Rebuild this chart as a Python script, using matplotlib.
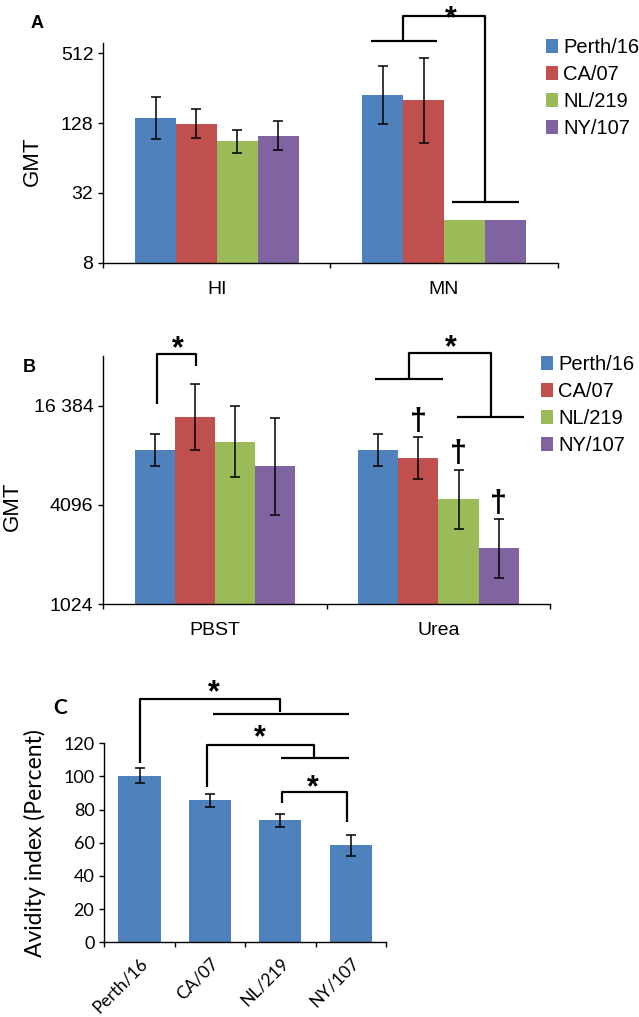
import numpy as np
import matplotlib
matplotlib.use('Agg')
import matplotlib.pyplot as plt
from matplotlib.patches import Patch
from matplotlib import transforms

# Data
strains = ['Perth/16', 'CA/07', 'NL/219', 'NY/107']
colors = ['#4F81BD', '#C0504D', '#9BBB59', '#8064A2']

a_groups = ['HI', 'MN']
hi_gmt = [142, 127, 89, 100]
hi_lo = [93, 95, 71, 75]
hi_up = [216, 169, 112, 134]
mn_gmt = [225, 201, 18.8, 18.8]
mn_lo = [126, 87, np.nan, np.nan]
mn_up = [400, 464, np.nan, np.nan]

b_groups = ['PBST', 'Urea']
pbst_gmt = [8830, 13990, 9910, 7060]
pbst_lo = [7090, 8790, 6055, 3577]
pbst_up = [11080, 22180, 16250, 13800]
urea_gmt = [8830, 7860, 4455, 2238]
urea_lo = [7090, 5913, 2930, 1478]
urea_up = [11080, 10530, 6706, 3365]

avidity = [100.5, 85.6, 73.6, 58.5]
avidity_err = [4.4, 3.9, 3.8, 6.3]

W, H = 639, 1017
fig = plt.figure(figsize=(W / 100, H / 100), dpi=100)
arial = 'Liberation Sans'
calib = 'Lato'


def rect(left, top, right, bottom):
    return [left / W, 1 - bottom / H, (right - left) / W, (bottom - top) / H]


def style_axes(ax, family, size):
    for s in ['top', 'right']:
        ax.spines[s].set_visible(False)
    for s in ['left', 'bottom']:
        ax.spines[s].set_linewidth(1.0)
    ax.tick_params(axis='both', which='major', direction='out', length=3.6,
                   width=1.0, labelsize=size)
    for lab in ax.get_yticklabels():
        lab.set_family(family)


def line(ax, xs, ys):
    ax.plot(xs, ys, color='black', lw=1.6, clip_on=False, solid_capstyle='butt')


def star(ax, x, y, size=22):
    ax.annotate('*', xy=(x, y), xytext=(0, -4.5), textcoords='offset points',
                ha='center', va='center', fontsize=size, fontweight='bold',
                family=arial, annotation_clip=False)


def grouped(ax, groups, vals, los, ups):
    offsets = [-0.27, -0.09, 0.09, 0.27]
    xs = np.arange(len(groups))
    for i in range(4):
        v = np.array([g[i] for g in vals], dtype=float)
        lo = np.array([g[i] for g in los], dtype=float)
        up = np.array([g[i] for g in ups], dtype=float)
        ax.bar(xs + offsets[i], v, width=0.18, color=colors[i], zorder=2)
        ok = np.isfinite(lo)
        ax.errorbar(xs[ok] + offsets[i], v[ok],
                    yerr=[v[ok] - lo[ok], up[ok] - v[ok]], fmt='none',
                    ecolor='black', elinewidth=1.1, capsize=3.3,
                    capthick=1.1, zorder=3)
    ax.set_xlim(-0.5, len(groups) - 0.5)
    ax.set_xticks(np.arange(len(groups) + 1) - 0.5)
    ax.set_xticklabels([])
    ax.set_xticks(xs, minor=True)
    ax.set_xticklabels(groups, minor=True, family=arial, fontsize=14)
    ax.tick_params(axis='x', which='minor', length=0, pad=13)


def legend(anchor_x, anchor_y):
    handles = [Patch(facecolor=c, edgecolor='none') for c in colors]
    fig.legend(handles, strains, loc='upper left',
               bbox_to_anchor=(anchor_x / W, 1 - anchor_y / H),
               bbox_transform=fig.transFigure, frameon=False,
               prop={'family': arial, 'size': 14.5}, handlelength=0.6,
               handleheight=0.7, handletextpad=0.25, labelspacing=0.40,
               borderpad=0, borderaxespad=0)


# ---------------- Panel A ----------------
axA = fig.add_axes(rect(103.3, 43.3, 557.5, 262.7))
axA.set_yscale('log', base=2)
grouped(axA, a_groups, [hi_gmt, mn_gmt], [hi_lo, mn_lo], [hi_up, mn_up])
axA.set_ylim(8, 625)
axA.set_yticks([8, 32, 128, 512])
axA.set_yticklabels(['8', '32', '128', '512'])
axA.yaxis.set_minor_locator(matplotlib.ticker.NullLocator())
style_axes(axA, arial, 14)
axA.set_ylabel('GMT', family=arial, fontsize=16, va='center')
axA.yaxis.set_label_coords(-0.157, 0.464)

line(axA, [0.677, 0.971], [657, 657])
line(axA, [0.821, 0.821, 1.182, 1.182], [657, 1080, 1080, 26.6])
line(axA, [1.035, 1.33], [26.6, 26.6])
star(axA, 1.031, 1150)
legend(546, 38)
fig.text(37.5 / W, 1 - 24 / H, 'A', family=arial, fontweight='bold',
         fontsize=13, ha='center', va='center')

# ---------------- Panel B ----------------
axB = fig.add_axes(rect(103.3, 356, 550.2, 604.3))
axB.set_yscale('log', base=2)
grouped(axB, b_groups, [pbst_gmt, urea_gmt], [pbst_lo, urea_lo], [pbst_up, urea_up])
axB.set_ylim(1024, 32768)
axB.set_yticks([1024, 4096, 16384])
axB.set_yticklabels(['1024', '4096', '16 384'])
axB.yaxis.set_minor_locator(matplotlib.ticker.NullLocator())
style_axes(axB, arial, 14)
axB.set_ylabel('GMT', family=arial, fontsize=16, va='center')
axB.yaxis.set_label_coords(-0.204, 0.396)

line(axB, [-0.259, -0.259, -0.084, -0.084], [16770, 33690, 33690, 28400])
star(axB, -0.167, 39150)
line(axB, [0.718, 1.020], [23790, 23790])
line(axB, [0.868, 0.868, 1.233, 1.233], [23790, 34000, 34000, 14050])
line(axB, [1.083, 1.381], [14050, 14050])
star(axB, 1.056, 40100)
# daggers over the urea bars of CA/07, NL/219, NY/107
dag_x = [1 - 0.09, 1 + 0.09, 1 + 0.27]
for k, i in enumerate([1, 2, 3]):
    axB.annotate('\u2020', xy=(dag_x[k], urea_up[i]), xytext=(0, 11),
                 textcoords='offset points', ha='center', va='center',
                 fontsize=22, fontweight='bold', family=arial,
                 annotation_clip=False)
legend(541, 355)
fig.text(29 / W, 1 - 368 / H, 'B', family=arial, fontweight='bold',
         fontsize=13, ha='center', va='center')

# ---------------- Panel C ----------------
axC = fig.add_axes(rect(104.3, 743.3, 386, 942.3))
xc = np.arange(len(strains))
axC.bar(xc, avidity, width=0.6, color=colors[0], zorder=2)
axC.errorbar(xc, avidity, yerr=avidity_err, fmt='none', ecolor='black',
             elinewidth=1.1, capsize=3.3, capthick=1.1, zorder=3)
axC.set_xlim(-0.5, 3.5)
axC.set_ylim(0, 120)
axC.set_yticks(np.arange(0, 121, 20))
axC.set_xticks(np.arange(5) - 0.5)
axC.set_xticklabels([])
axC.set_xticks(xc, minor=True)
offset = transforms.ScaledTranslation(0.07, 0, fig.dpi_scale_trans)
axC.set_xticklabels(strains, minor=True, family=calib, fontsize=12.5,
                    rotation=45, ha='right', rotation_mode='anchor')
for lab in axC.get_xticklabels(minor=True):
    lab.set_transform(lab.get_transform() + offset)
axC.tick_params(axis='x', which='minor', length=0, pad=9)
style_axes(axC, calib, 13)
axC.set_ylabel('Avidity index (Percent)', family=calib, fontsize=16.5,
               va='center')
axC.yaxis.set_label_coords(-0.246, 0.5)

line(axC, [0.0, 0.0, 2.0, 2.0], [108, 146.6, 146.6, 139.1])
line(axC, [1.05, 2.97], [137.5, 137.5])
star(axC, 1.05, 154)
line(axC, [0.955, 0.955, 2.48, 2.48], [93.9, 119, 119, 111])
line(axC, [2.01, 2.97], [111, 111])
star(axC, 1.71, 127)
line(axC, [2.02, 2.02, 2.95, 2.95], [83.8, 90.8, 90.8, 72.7])
star(axC, 2.46, 96.9)
fig.text(60.5 / W, 1 - 707.5 / H, 'C', family=calib, fontweight='bold',
         fontsize=15, ha='center', va='center')

fig.savefig('out.png', dpi=100)
